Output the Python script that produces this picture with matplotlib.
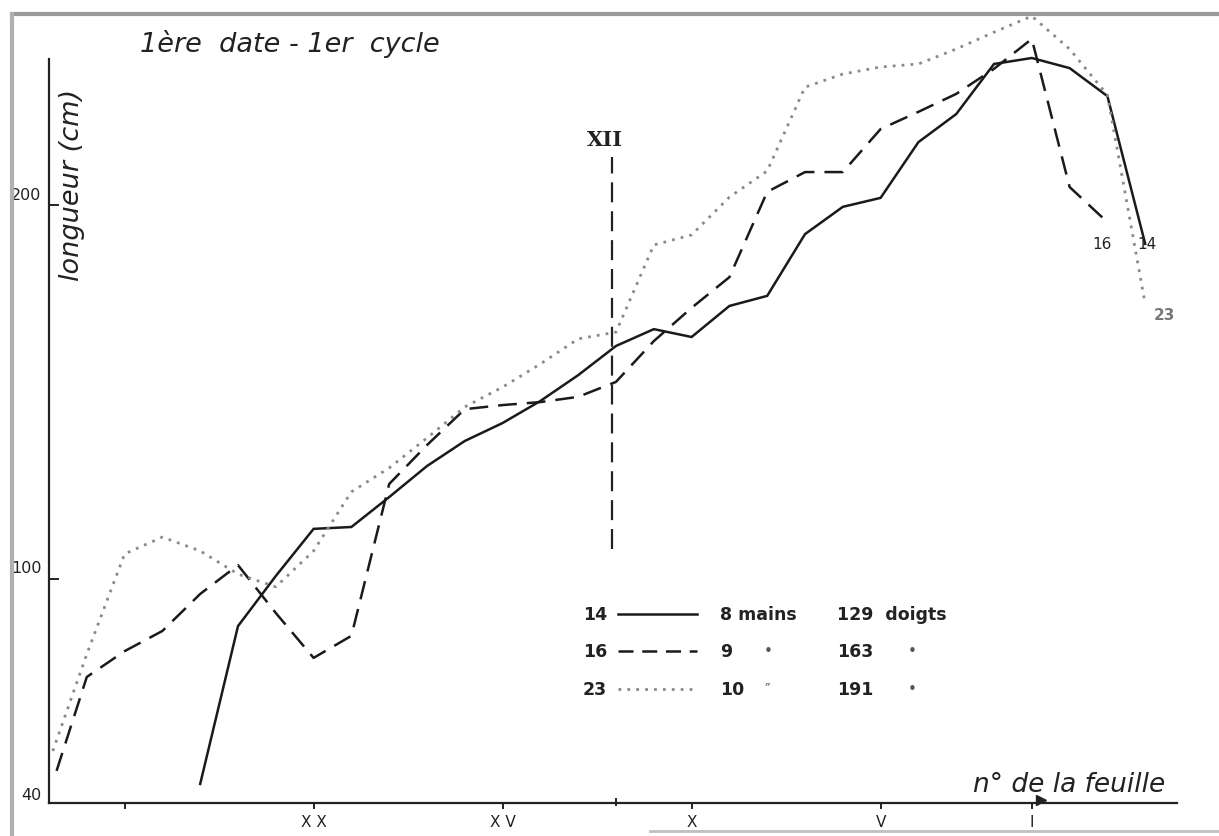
import matplotlib
matplotlib.use("Agg")
import matplotlib.pyplot as plt
from matplotlib.lines import Line2D

W, H = 1219, 837

# leaf numbers, counted from the top leaf (I) downwards; 0, -1, -2 are past leaf I
leaves_14 = [23, 22, 21, 20, 19, 18, 17, 16, 15, 14, 13, 12, 11, 10, 9, 8, 7, 6, 5, 4, 3, 2, 1, 0, -1, -2]
long_14 = [45.1, 87.3, 100.7, 113.3, 113.8, 121.8, 130.1, 136.8, 141.6, 147.5, 154.4, 162.2, 166.7,
           164.6, 172.9, 175.6, 192.1, 199.4, 201.8, 216.7, 224.2, 237.6, 239.2, 236.5, 229.0, 189.5]

leaves_16 = [26.8, 26, 25, 24, 23, 22, 21, 20, 19, 18, 17, 16, 15, 14, 13, 12, 11, 10, 9, 8, 7, 6, 5, 4, 3, 2, 1, 0, -1]
long_16 = [48.6, 73.7, 80.6, 86.0, 95.9, 103.6, 90.8, 78.8, 84.7, 125.3, 135.7, 145.3, 146.4, 147.2,
           148.6, 152.6, 163.5, 172.4, 180.6, 203.4, 208.7, 208.7, 220.2, 224.8, 229.6, 236.3, 244.3,
           204.7, 195.3]

leaves_23 = [26.9, 26, 25, 24, 23, 22, 21, 20, 19, 18, 17, 16, 15, 14, 13, 12, 11, 10, 9, 8, 7, 6, 5, 4, 3, 2, 1, 0, -1, -2]
long_23 = [53.9, 79.8, 106.6, 111.1, 107.4, 101.2, 97.8, 107.4, 123.2, 129.6, 137.6, 145.9, 151.2, 157.4,
           164.1, 165.9, 189.2, 191.9, 202.0, 209.0, 231.4, 234.9, 236.8, 237.6, 241.6, 246.1, 250.4,
           241.6, 229.3, 173.4]

roman_ticks = [20, 15, 10, 5, 1]
roman_labels = ["X X", "X V", "X", "V", "I"]
y_ticks = [40, 100, 200]

legend_rows = [
    ("14", "8 mains", "", "129", "doigts"),
    ("16", "9", "•", "163", "•"),
    ("23", "10", "″", "191", "•"),
]


def fx(x):
    return x / W


def fy(y):
    return 1 - y / H


fig = plt.figure(figsize=(W / 100, H / 100), dpi=100)
ax = fig.add_axes([fx(49), fy(804), fx(1183) - fx(49), fy(10) - fy(804)])
ax.set_xlim(27, -3)
ax.set_ylim(40, 252.3)
ax.axis("off")

ax.plot(leaves_14, long_14, color="#1a1a1a", lw=1.8, solid_joinstyle="miter", clip_on=False)
ax.plot(leaves_16, long_16, color="#1a1a1a", lw=1.8, dashes=(7.5, 4), clip_on=False)
ax.plot(leaves_23, long_23, color="#8a8a8a", lw=2.0, linestyle=(0, (1, 2.2)), clip_on=False)

# axes drawn by hand
ax.plot([27, 27], [40, 239], color="#222222", lw=1.6, clip_on=False)
ax.plot([27, -2.85], [40, 40], color="#222222", lw=1.6, clip_on=False)
ax.plot([0.75], [40.9], marker=">", color="#222222", ms=7, clip_on=False)
for t, lab in zip(roman_ticks, roman_labels):
    ax.plot([t, t], [40, 38.6], color="#222222", lw=1.4, clip_on=False)
    ax.text(t, 35.0, lab, ha="center", va="center", fontsize=11, color="#222222",
            fontfamily="DejaVu Sans Condensed")
ax.plot([25, 25], [40, 38.6], color="#222222", lw=1.4, clip_on=False)
ax.plot([12, 12], [39.4, 41.0], color="#222222", lw=1.4, clip_on=False)
for v in y_ticks[1:]:
    ax.plot([27, 26.75], [v, v], color="#222222", lw=1.4, clip_on=False)
ax.text(27.2, 202.8, "200", ha="right", va="center", fontsize=11.5, color="#222222")
ax.text(27.2, 103.0, "100", ha="right", va="center", fontsize=11.5, color="#222222")
ax.text(27.2, 42.3, "40", ha="right", va="center", fontsize=11.5, color="#222222")

# leaf XII marker
ax.plot([12.1, 12.1], [107.9, 212.7], color="#222222", lw=1.6, dashes=(9, 4))
ax.text(12.3, 217.5, "XII", ha="center", va="center", fontsize=15, fontweight="bold",
        fontfamily="DejaVu Serif", color="#222222")

# end labels
ax.text(-1.8, 189.5, "14", ha="left", va="center", fontsize=11, color="#222222")
ax.text(-0.85, 189.5, "16", ha="center", va="center", fontsize=11, color="#222222")
ax.text(-2.5, 170.5, "23", ha="center", va="center", fontsize=11, color="#777777",
        fontweight="bold")

fig.text(fx(140), fy(44), "1ère  date - 1er  cycle", fontsize=19.5, style="italic",
         ha="left", va="center", color="#222222")
fig.text(fx(72), fy(185), "longueur (cm)", fontsize=19.5, style="italic", rotation=90,
         ha="center", va="center", color="#222222")
fig.text(fx(1165), fy(785), "n° de la feuille", fontsize=19, style="italic",
         ha="right", va="center", color="#222222")

# legend block
row_y = [615, 652, 690]
styles = [dict(color="#1a1a1a", lw=1.8),
          dict(color="#1a1a1a", lw=1.8, dashes=(6, 3.5)),
          dict(color="#8a8a8a", lw=2.0, linestyle=(0, (1, 2.2)))]
for (num, hands, mark1, fingers, mark2), y, st in zip(legend_rows, row_y, styles):
    fig.text(fx(583), fy(y), num, fontsize=12.5, fontweight="bold", ha="left", va="center",
             color="#222222")
    fig.add_artist(Line2D([fx(618), fx(697)], [fy(y), fy(y)], **st))
    fig.text(fx(720), fy(y), hands, fontsize=12.5, fontweight="bold", ha="left", va="center",
             color="#222222")
    if mark1:
        fig.text(fx(768), fy(y), mark1, fontsize=11, ha="center", va="center", color="#555555")
    if mark2 == "doigts":
        fig.text(fx(837), fy(y), fingers + "  doigts", fontsize=12.5, fontweight="bold",
                 ha="left", va="center", color="#222222")
    else:
        fig.text(fx(837), fy(y), fingers, fontsize=12.5, fontweight="bold", ha="left",
                 va="center", color="#222222")
        fig.text(fx(912), fy(y), mark2, fontsize=11, ha="center", va="center", color="#555555")

# sheet frame
fig.add_artist(Line2D([fx(12), fx(1219)], [fy(15), fy(15)], color="#9a9a9a", lw=3))
fig.add_artist(Line2D([fx(12), fx(12)], [fy(15), fy(837)], color="#b0b0b0", lw=3))
fig.add_artist(Line2D([fx(650), fx(1219)], [fy(832), fy(832)], color="#c0c0c0", lw=2))

fig.savefig("out.png", dpi=100, facecolor="white")
